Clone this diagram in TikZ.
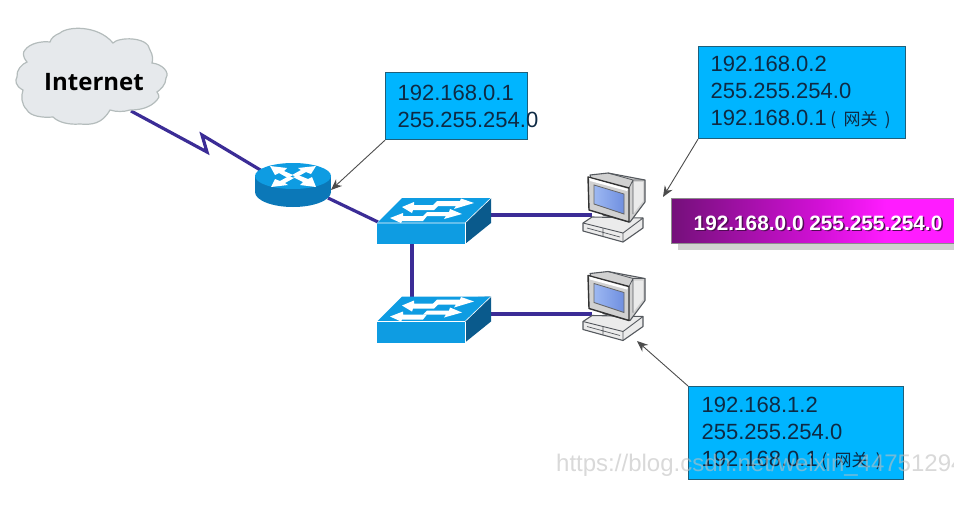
\documentclass[tikz,border=0pt]{standalone}
\usepackage{fontspec}
\setmainfont{Liberation Sans}
\newfontfamily\cjk{Noto Sans CJK SC}
\newfontfamily\cloudfont{Open Sans}
\usetikzlibrary{arrows.meta,shadows,calc}
\definecolor{linkblue}{HTML}{3B2C96}
\definecolor{boxblue}{HTML}{00B5FF}
\definecolor{boxedge}{HTML}{1F5F7A}
\definecolor{ciscoA}{HTML}{0E9CE2}
\definecolor{ciscoB}{HTML}{0B78B8}
\definecolor{ciscoC}{HTML}{0A5A8C}
\definecolor{txt}{HTML}{0E2A44}
\definecolor{pcgrey}{HTML}{55595E}
\definecolor{cloudfill}{HTML}{E6E9EC}
\definecolor{cloudedge}{HTML}{B4BCBC}
\definecolor{bannerdark}{HTML}{74107A}
\definecolor{bannermid}{HTML}{D010D4}
\definecolor{bannerlight}{HTML}{FF1CFF}
\definecolor{screenlight}{HTML}{9DB8F2}
\definecolor{screendark}{HTML}{6F8FE0}
\pgfdeclarehorizontalshading{bannershade}{100bp}{
  color(0bp)=(bannerdark);
  color(25bp)=(bannerdark);
  color(50bp)=(bannermid);
  color(62bp)=(bannerlight);
  color(100bp)=(bannerlight)}
\tikzset{
  x=1pt,y=-1pt,
  link/.style={draw=linkblue,line width=3.2pt},
  pointer/.style={draw=black!70,line width=0.9pt,-{Stealth[length=11pt,width=9pt]}},
  infobox/.style={draw=boxedge,line width=1.2pt,fill=boxblue,anchor=north west,inner sep=0pt,
    text=txt,font=\fontsize{22}{27}\selectfont,align=left},
  arrowglyph/.style={fill=white,draw=none},
  pics/netswitch/.style={code={
    % top, front and side faces of the switch
    \fill[ciscoC] (88,1) -- (114,0) -- (114,25) -- (88,46) -- cycle;
    \fill[ciscoA] (0,25) -- (88,25) -- (88,46) -- (0,46) -- cycle;
    \fill[ciscoA] (25,0) -- (114,0) -- (88,25) -- (0,25) -- cycle;
    \draw[white,line width=0.6pt] (0,25) -- (88,25) -- (114,0);
    \draw[white,line width=0.6pt] (88,25) -- (88,46);
    % four white traffic arrows on the top face
    \fill[arrowglyph] (25,9) -- (37,4) -- (37,7) -- (62,7) -- (57,12) -- (36,12) -- (35,15) -- cycle;
    \fill[arrowglyph] (97,5) -- (84,0.5) -- (83,3) -- (60,3) -- (55,8) -- (79,8) -- (77,11) -- cycle;
    \fill[arrowglyph] (13,20) -- (26,15) -- (26,18) -- (50,18) -- (46,23) -- (25,23) -- (24,25) -- cycle;
    \fill[arrowglyph] (85,16) -- (73,11) -- (72,14) -- (50,14) -- (46,18) -- (69,18) -- (67,21) -- cycle;
  }},
  pics/desktop/.style={code={
    % base unit
    \filldraw[fill=black!8,draw=pcgrey,line width=1.1pt,line join=round]
      (0,53) -- (9,47) -- (60,48) -- (60,58) -- (40,72) -- (0,61) -- cycle;
    \draw[pcgrey,line width=0.9pt] (0,53) -- (40,63) -- (60,48) (40,63) -- (40,72);
    \draw[pcgrey,line width=0.7pt] (20,58) -- (20,66) (4,58) -- (37,67);
    % monitor housing behind the bezel
    \filldraw[fill=black!18,draw=pcgrey,line width=1.1pt,line join=round]
      (7,5) -- (25,3) -- (62,10) -- (62,32) -- (47,52) -- (20,45) -- cycle;
    \fill[black!8] (50,12) -- (60,12) -- (60,31) -- (50,44) -- cycle;
    \draw[pcgrey,line width=0.8pt] (25,3) -- (50,10) -- (46,18) (50,10) -- (62,10) (50,10) -- (50,44);
    % bezel and screen
    \filldraw[fill=black!18,draw=black!80,line width=1.4pt,line join=round]
      (5,7) -- (46,18) -- (46,52) -- (6,40) -- cycle;
    \fill[fill=white] (6,8) -- (45,19) -- (44,21) -- (7,11) -- cycle;
    \shade[left color=screenlight,right color=screendark]
      (11,15) -- (41,24) -- (41,44) -- (11,34) -- cycle;
    \draw[black!60,line width=0.8pt] (11,15) -- (41,24) -- (41,44) -- (11,34) -- cycle;
  }}
}
\begin{document}
\begin{tikzpicture}
\useasboundingbox (0,0) rectangle (954,509);
\clip (0,0) rectangle (954,509);

% connection points on the devices
\coordinate (cloudlink) at (131,111);
\coordinate (zigA) at (207,152);
\coordinate (zigB) at (202,135);
\coordinate (routerwest) at (262,171);
\coordinate (routereast) at (328,198);
\coordinate (sw1west) at (378,222);
\coordinate (sw1east) at (490,215);
\coordinate (sw1south) at (412,243);
\coordinate (sw2north) at (412,297);
\coordinate (sw2east) at (490,314);
\coordinate (pc1port) at (592,215);
\coordinate (pc2port) at (592,314);
\coordinate (routertip) at (331,190);
\coordinate (pc1tip) at (663,197);
\coordinate (pc2tip) at (637,341);

% links, drawn under the devices
\draw[link,line join=miter] (cloudlink) -- (zigA) -- (zigB) -- (routerwest);
\draw[link] (routereast) -- (sw1west);
\draw[link] (sw1east) -- (pc1port);
\draw[link] (sw1south) -- (sw2north);
\draw[link] (sw2east) -- (pc2port);

% Internet cloud
\filldraw[fill=cloudfill,draw=cloudedge,line width=1.2pt]
  (60,33) .. controls (68,26) and (98,25) .. (113,43)
  .. controls (118,37) and (148,36) .. (150,50)
  .. controls (153,55) and (153,60) .. (152,63)
  .. controls (162,64) and (170,72) .. (166,78)
  .. controls (166,85) and (160,90) .. (157,92)
  .. controls (160,96) and (159,99) .. (157,100)
  .. controls (150,108) and (140,110) .. (130,110)
  .. controls (124,112) and (116,112) .. (110,110)
  .. controls (102,124) and (92,125) .. (80,124)
  .. controls (68,125) and (58,122) .. (53,117)
  .. controls (42,118) and (30,116) .. (27,110)
  .. controls (21,104) and (21,96) .. (23,90)
  .. controls (15,86) and (15,80) .. (17,77)
  .. controls (16,70) and (22,64) .. (27,62)
  .. controls (22,56) and (23,52) .. (25,50)
  .. controls (30,43) and (42,41) .. (50,42)
  .. controls (51,38) and (55,35) .. (60,33) -- cycle;
\node[font=\cloudfont\fontsize{24}{24}\selectfont\bfseries,text=black] (cloudlabel) at (94,82) {Internet};

% Router: cylinder body, top disc and four arrows
\fill[ciscoB] (255,176) rectangle (331,192);
\fill[ciscoB] (293,192) ellipse[x radius=38,y radius=15];
\fill[ciscoA] (293,176) ellipse[x radius=38,y radius=13];
\fill[arrowglyph] (270,166) -- (287,168) -- (284,171) -- (293,175) -- (288,178) -- (279,173) -- (275,175) -- cycle;
\fill[arrowglyph] (316,166) -- (311,174) -- (306,172) -- (297,177) -- (292,175) -- (301,170) -- (298,168) -- cycle;
\fill[arrowglyph] (271,187) -- (275,179) -- (280,181) -- (289,176) -- (294,178) -- (285,183) -- (288,185) -- cycle;
\fill[arrowglyph] (316,187) -- (300,185) -- (303,182) -- (293,177) -- (298,175) -- (308,179) -- (312,177) -- cycle;

% Switches
\pic at (377,198) {netswitch};
\pic at (377,296.5) {netswitch};

% Workstations
\pic at (583,170) {desktop};
\pic at (583,268.5) {desktop};

% Address boxes
\node[infobox,minimum width=142pt,minimum height=67pt,text width=142pt] (boxrouter) at (385,72)
  {\hspace*{12pt}192.168.0.1\\\hspace*{12pt}255.255.254.0};
\node[infobox,minimum width=207pt,minimum height=92pt,text width=207pt] (boxpcone) at (698,46)
  {\hspace*{12pt}192.168.0.2\\\hspace*{12pt}255.255.254.0\\\hspace*{12pt}192.168.0.1\,{\cjk\fontsize{17}{17}\selectfont( 网关 )}};
\node[infobox,minimum width=215pt,minimum height=93pt,text width=215pt] (boxpctwo) at (688,386)
  {\hspace*{13pt}192.168.1.2\\\hspace*{13pt}255.255.254.0\\\hspace*{13pt}192.168.0.1\,{\cjk\fontsize{17}{17}\selectfont( 网关 )}};

% Pointers from the boxes to the devices
\draw[pointer] (boxrouter.south west) -- (routertip);
\draw[pointer] (boxpcone.south west) -- (pc1tip);
\draw[pointer] (boxpctwo.north west) -- (pc2tip);

% Subnet banner
\fill[black!18] (678,204) rectangle (954,250);
\node[anchor=north west,minimum width=290pt,minimum height=45pt,inner sep=0pt,shading=bannershade,draw=black!45,line width=0.5pt] (banner) at (671,198) {};
\node[text=bannerdark!70!black,font=\fontsize{20.8}{21}\selectfont\bfseries,anchor=west,inner sep=0pt] (bannershadow) at (695,224.5) {192.168.0.0 255.255.254.0};
\node[text=white,font=\fontsize{20.8}{21}\selectfont\bfseries,anchor=west,inner sep=0pt] (bannertext) at (693.5,223) {192.168.0.0 255.255.254.0};

% Blog address across the lower right
\node[text=black!25,opacity=0.6,font=\fontsize{24}{24}\selectfont,anchor=west,inner sep=0pt] (blogurl) at (556,465) {https://blog.csdn.net/weixin\_44751294};
\end{tikzpicture}
\end{document}
